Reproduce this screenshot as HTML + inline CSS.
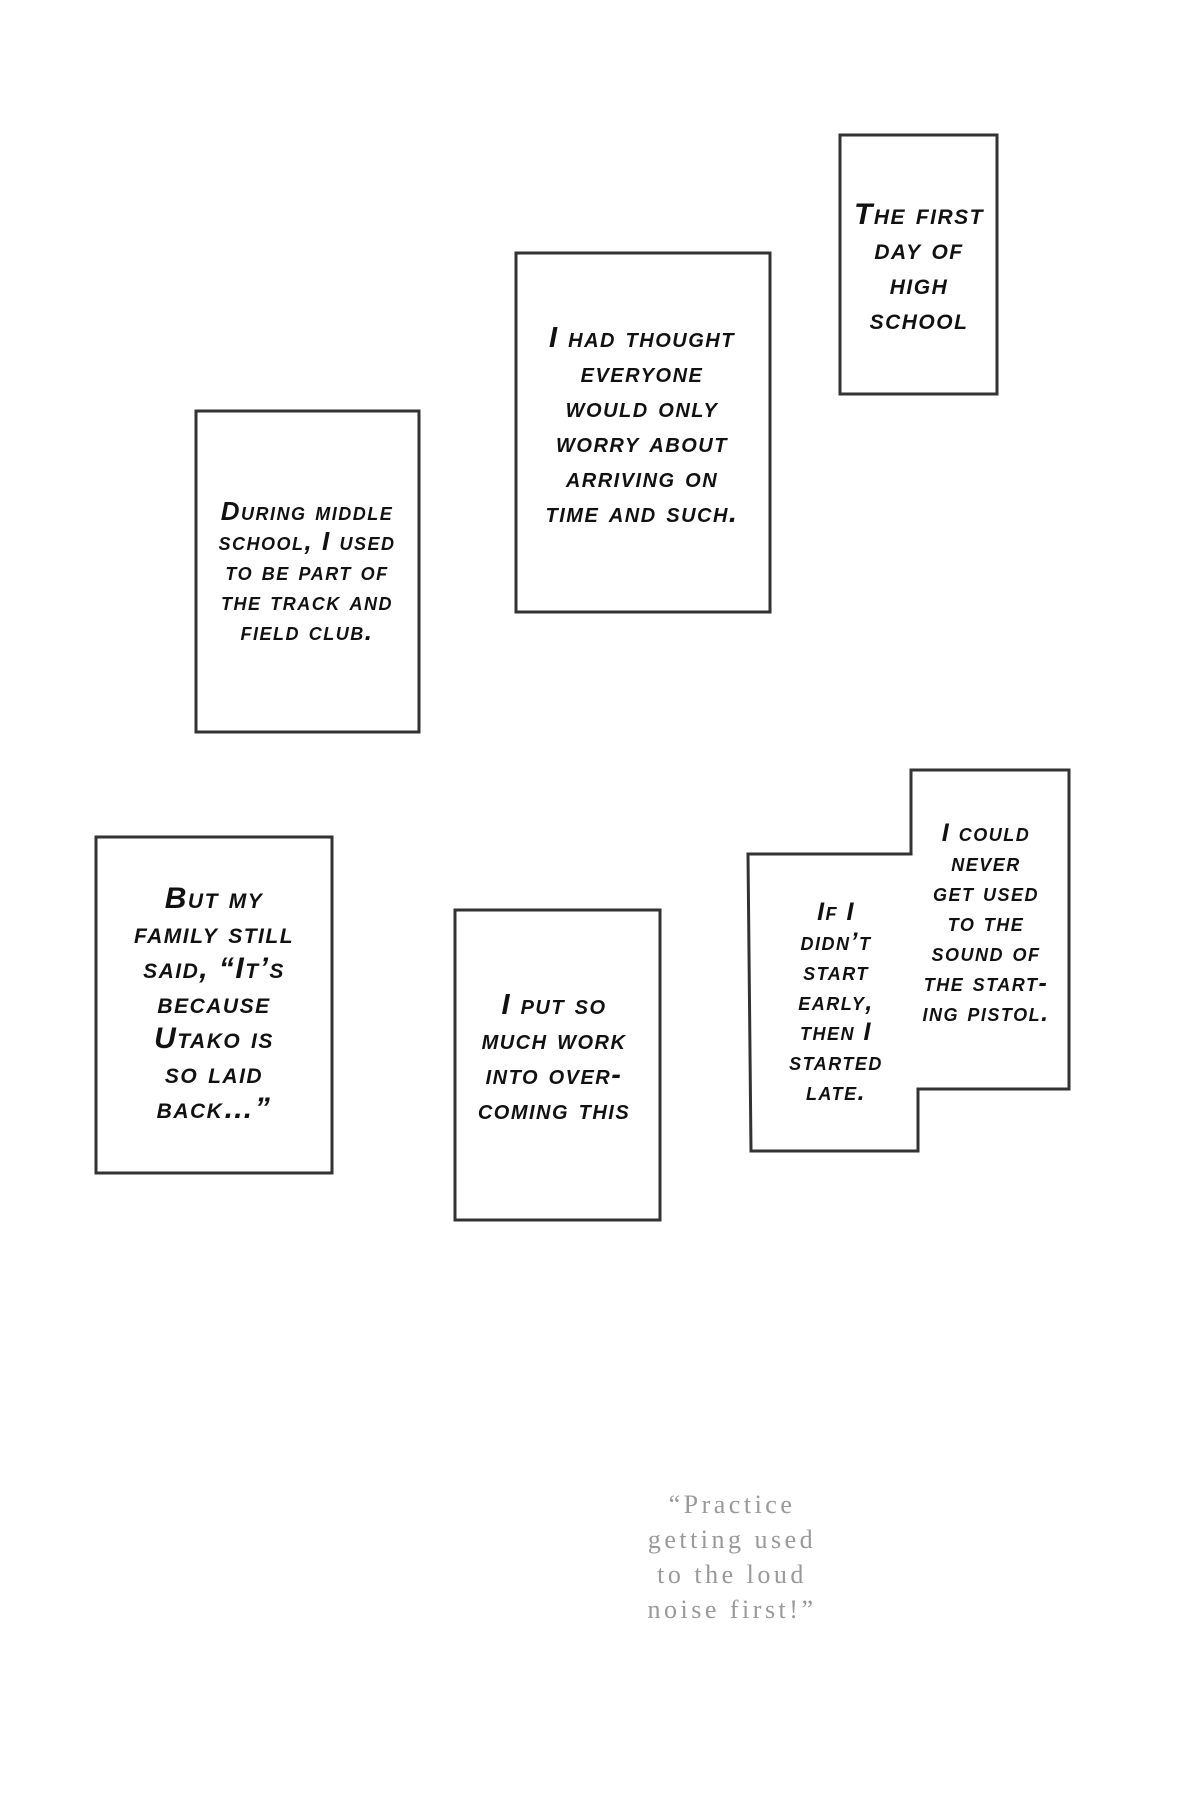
<!DOCTYPE html>
<html><head><meta charset="utf-8"><style>
html,body{margin:0;padding:0;background:#fff;}
body{width:1200px;height:1804px;position:relative;overflow:hidden;}
.t{position:absolute;text-align:center;font-family:"Liberation Sans",sans-serif;font-weight:bold;font-style:italic;color:#111;font-variant:small-caps;letter-spacing:1.5px;white-space:nowrap;transform:translateX(-50%);}
.q{position:absolute;left:732px;top:1487px;transform:translateX(-50%);text-align:center;font-family:"Liberation Serif",serif;font-size:26px;line-height:35px;color:#999;letter-spacing:3.5px;white-space:nowrap;}
</style></head><body>
<svg width="1200" height="1804" style="position:absolute;left:0;top:0" fill="#fff" stroke="#333" stroke-width="3">
<rect x="840" y="135" width="157" height="259"/>
<rect x="516" y="253" width="254" height="359"/>
<rect x="196" y="411" width="223" height="321"/>
<rect x="96" y="837" width="236" height="336"/>
<rect x="455" y="910" width="205" height="310"/>
<polygon points="748,854 911,854 911,770 1069,770 1069,1089 918,1089 918,1151 751,1151"/>
</svg>
<div class="t" style="left:919px;top:197px;font-size:30px;line-height:35px">The first<br>day of<br>high<br>school</div>
<div class="t" style="left:642px;top:321px;font-size:29px;line-height:35px">I had thought<br>everyone<br>would only<br>worry about<br>arriving on<br>time and such.</div>
<div class="t" style="left:307px;top:496px;font-size:26px;line-height:30px">During middle<br>school, I used<br>to be part of<br>the track and<br>field club.</div>
<div class="t" style="left:214px;top:881px;font-size:30px;line-height:35px">But my<br>family still<br>said, “It’s<br>because<br>Utako is<br>so laid<br>back…”</div>
<div class="t" style="left:554px;top:988px;font-size:29px;line-height:35px">I put so<br>much work<br>into over-<br>coming this</div>
<div class="t" style="left:836px;top:897px;font-size:25px;line-height:30px">If I<br>didn’t<br>start<br>early,<br>then I<br>started<br>late.</div>
<div class="t" style="left:986px;top:818px;font-size:25px;line-height:30px">I could<br>never<br>get used<br>to the<br>sound of<br>the start-<br>ing pistol.</div>
<div class="q">“Practice<br>getting used<br>to the loud<br>noise first!”</div>
</body></html>
